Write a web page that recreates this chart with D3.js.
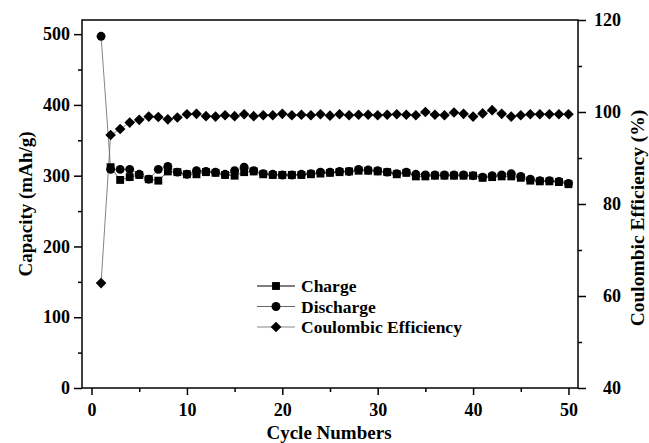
<!DOCTYPE html>
<html>
<head>
<meta charset="utf-8">
<script src="https://cdn.jsdelivr.net/npm/d3@7"></script>
<style>
  body { margin: 0; background: #fff; }
  text { font-family: "Liberation Serif", "Times New Roman", serif; font-weight: bold; }
</style>
</head>
<body>
<svg id="chart" width="649" height="443"></svg>
<script>
// discharge capacity, cycles 1..50
let discharge = [497, 309, 309, 309, 302, 295, 309, 313, 305, 302,
                 307, 306, 305, 302, 307, 312, 307, 303, 302, 301,
                 301, 302, 303, 305, 305, 306, 306, 309, 308, 307,
                 305, 303, 305, 302, 301, 301, 301, 301, 301, 300,
                 298, 300, 301, 303, 299, 295, 293, 293, 292, 289];
// charge capacity, cycles 2..50
let charge = [312, 294, 298, 301, 295, 293, 306, 305, 302,
              302, 305, 304, 301, 300, 305, 306, 302, 301, 301,
              301, 301, 302, 303, 304, 305, 306, 307, 307, 306,
              305, 302, 304, 299, 299, 300, 300, 300, 300, 300,
              297, 298, 299, 299, 297, 293, 292, 292, 291, 288];
// coulombic efficiency (%), cycles 1..50
let efficiency = [62.8, 95.0, 96.3, 97.7, 98.3, 99.0, 98.9, 98.4, 98.8, 99.5,
                  99.6, 99.1, 99.0, 99.3, 99.1, 99.5, 99.1, 99.3, 99.3, 99.6,
                  99.3, 99.4, 99.3, 99.5, 99.2, 99.5, 99.3, 99.4, 99.4, 99.3,
                  99.4, 99.5, 99.4, 99.3, 100.0, 99.4, 99.3, 99.9, 99.6, 99.0,
                  99.7, 100.4, 99.6, 99.0, 99.3, 99.5, 99.5, 99.5, 99.5, 99.5];

let xTicks = [0, 10, 20, 30, 40, 50];
let leftTicks = [0, 100, 200, 300, 400, 500];
let rightTicks = [40, 60, 80, 100, 120];
let legendNames = ['Charge', 'Discharge', 'Coulombic Efficiency'];

let svg = d3.select('#chart');
const pLeft = 82, pRight = 578, pTop = 20, pBottom = 388;

let x = d3.scaleLinear().domain([-1, 51]).range([pLeft, pRight]);
let yL = d3.scaleLinear().domain([0, 520]).range([pBottom, pTop]);
let yR = d3.scaleLinear().domain([40, 120]).range([pBottom, pTop]);

// minor ticks
svg.append('g').attr('transform', `translate(0,${pBottom})`)
    .call(d3.axisBottom(x).tickValues(d3.range(5, 51, 10)).tickSize(4).tickFormat(''))
    .call(g => g.select('.domain').remove());
svg.append('g').attr('transform', `translate(${pLeft},0)`)
    .call(d3.axisLeft(yL).tickValues(d3.range(50, 520, 100)).tickSize(4).tickFormat(''))
    .call(g => g.select('.domain').remove());
svg.append('g').attr('transform', `translate(${pRight},0)`)
    .call(d3.axisRight(yR).tickValues([50, 70, 90, 110]).tickSize(4).tickFormat(''))
    .call(g => g.select('.domain').remove());

// major ticks
let gx = svg.append('g').attr('transform', `translate(0,${pBottom})`)
    .call(d3.axisBottom(x).tickValues(xTicks).tickSize(7).tickPadding(8).tickSizeOuter(0));
let gl = svg.append('g').attr('transform', `translate(${pLeft},0)`)
    .call(d3.axisLeft(yL).tickValues(leftTicks).tickSize(8).tickPadding(4).tickSizeOuter(0));
let gr = svg.append('g').attr('transform', `translate(${pRight},0)`)
    .call(d3.axisRight(yR).tickValues(rightTicks).tickSize(8).tickPadding(4).tickSizeOuter(0));

[gx, gl, gr].forEach(g => {
    g.selectAll('.domain').remove();
    g.selectAll('text').attr('font-size', 18).attr('fill', '#000')
        .attr('font-family', '"Liberation Serif", serif').attr('font-weight', 'bold');
});
svg.selectAll('g.tick line').attr('stroke', '#000').attr('stroke-width', 1.5);
gr.selectAll('text').attr('text-anchor', 'end').attr('x', 43);

// frame
svg.append('rect')
    .attr('x', pLeft).attr('y', pTop)
    .attr('width', pRight - pLeft).attr('height', pBottom - pTop)
    .attr('fill', 'none').attr('stroke', '#000').attr('stroke-width', 1.5);

// lines
let dischargePts = discharge.map((v, i) => [i + 1, v]);
let chargePts = charge.map((v, i) => [i + 2, v]);
let effPts = efficiency.map((v, i) => [i + 1, v]);

let lineL = d3.line().x(d => x(d[0])).y(d => yL(d[1]));
let lineR = d3.line().x(d => x(d[0])).y(d => yR(d[1]));

svg.append('path').attr('d', lineL(chargePts)).attr('fill', 'none').attr('stroke', '#333').attr('stroke-width', 0.8);
svg.append('path').attr('d', lineL(dischargePts)).attr('fill', 'none').attr('stroke', '#666').attr('stroke-width', 0.8);
svg.append('path').attr('d', lineR(effPts)).attr('fill', 'none').attr('stroke', '#666').attr('stroke-width', 0.8);

let square = d3.symbol().type(d3.symbolSquare).size(62);
let circle = d3.symbol().type(d3.symbolCircle).size(62);
let diamond = d3.symbol().type(d3.symbolDiamond2).size(72);

svg.append('g').selectAll('path').data(chargePts).join('path')
    .attr('d', square).attr('transform', d => `translate(${x(d[0])},${yL(d[1])})`);
svg.append('g').selectAll('path').data(dischargePts).join('path')
    .attr('d', circle).attr('transform', d => `translate(${x(d[0])},${yL(d[1])})`);
svg.append('g').selectAll('path').data(effPts).join('path')
    .attr('d', diamond).attr('transform', d => `translate(${x(d[0])},${yR(d[1])})`);

// legend
let symbols = [square, circle, diamond];
let legendStroke = ['#000', '#666', '#888'];
let lg = svg.append('g');
legendNames.forEach((name, i) => {
    let yy = 286 + i * 20.5;
    lg.append('line').attr('x1', 257).attr('x2', 295).attr('y1', yy).attr('y2', yy)
        .attr('stroke', legendStroke[i]).attr('stroke-width', 1);
    lg.append('path').attr('d', symbols[i]).attr('transform', `translate(276,${yy})`);
    lg.append('text').attr('x', 301).attr('y', yy).attr('dy', '0.35em')
        .attr('font-size', 17.5).text(name);
});

// axis titles
svg.append('text').attr('x', 329).attr('y', 439).attr('text-anchor', 'middle')
    .attr('font-size', 19).text('Cycle Numbers');
svg.append('text').attr('transform', 'translate(32,204) rotate(-90)').attr('text-anchor', 'middle')
    .attr('font-size', 19).text('Capacity (mAh/g)');
svg.append('text').attr('transform', 'translate(644,218) rotate(-90)').attr('text-anchor', 'middle')
    .attr('font-size', 19.5).text('Coulombic Efficiency (%)');
</script>
</body>
</html>
